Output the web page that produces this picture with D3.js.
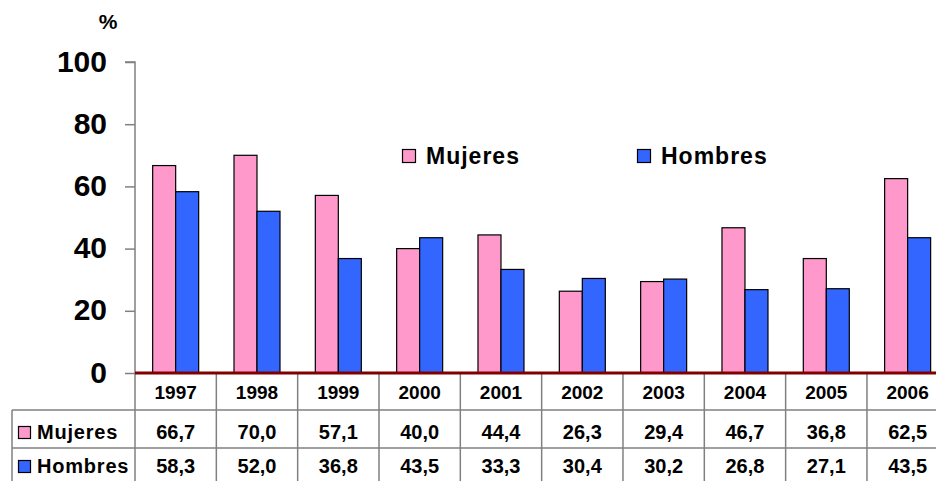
<!DOCTYPE html>
<html><head><meta charset="utf-8">
<script src="https://cdn.jsdelivr.net/npm/d3@7"></script>
<style>body{margin:0;background:#fff}svg{display:block}text{font-family:"Liberation Sans",Arial,sans-serif;font-weight:bold}</style>
</head><body><svg id="c" width="936" height="481"></svg>
<script>
const years = ["1997","1998","1999","2000","2001","2002","2003","2004","2005","2006"];
const mujeres = [66.7,70.0,57.1,40.0,44.4,26.3,29.4,46.7,36.8,62.5];
const hombres = [58.3,52.0,36.8,43.5,33.3,30.4,30.2,26.8,27.1,43.5];
const seriesNames = ["Mujeres","Hombres"];
const seriesColors = ["#FF99CC","#3366FF"];
const yTicks = [0,20,40,60,80,100];

const svg = d3.select("#c");
const x0 = 135, colW = 81.33;
const x = d3.scaleBand().domain(years).range([x0, x0 + colW*years.length]).paddingInner(0).paddingOuter(0);
const y = d3.scaleLinear().domain([0,100]).range([373, 62]);
const bw = 23;
const fmt = v => v.toFixed(1).replace(".", ",");

// y axis
const yAxis = d3.axisLeft(y).tickValues(yTicks).tickSize(10).tickPadding(18).tickFormat(d3.format("d"));
const ga = svg.append("g").attr("transform","translate("+x0+",0)").call(yAxis);
ga.select(".domain").attr("stroke","#808080").attr("stroke-width",1.5).attr("d","M-10,"+y(100)+"H0V"+y(0));
ga.selectAll(".tick line").attr("stroke","#808080").attr("stroke-width",1.5);
ga.selectAll(".tick text").attr("font-size",30).attr("font-weight","bold").attr("fill","#000")
  .attr("font-family","'Liberation Sans',Arial,sans-serif").attr("dy","0.3em");

svg.append("text").attr("x",108).attr("y",29).attr("text-anchor","middle").attr("font-size",21).text("%");

// bars
const data = [mujeres, hombres];
data.forEach((vals,si)=>{
  svg.append("g").selectAll("rect").data(vals).join("rect")
    .attr("x",(d,i)=> x(years[i]) + x.bandwidth()/2 - bw + si*bw)
    .attr("y",d=>y(d)).attr("width",bw).attr("height",d=>y(0)-y(d))
    .attr("fill",seriesColors[si]).attr("stroke","#000").attr("stroke-width",1.2);
});

// table
const rowY = [373, 410, 448, 481];
const tx0 = 12;
const grid = svg.append("g").attr("stroke","#808080").attr("stroke-width",1.5);
grid.append("line").attr("x1",tx0).attr("x2",936).attr("y1",rowY[1]).attr("y2",rowY[1]);
grid.append("line").attr("x1",tx0).attr("x2",936).attr("y1",rowY[2]).attr("y2",rowY[2]);
grid.append("line").attr("x1",tx0).attr("x2",tx0).attr("y1",rowY[1]).attr("y2",rowY[3]);
years.forEach(yr=>{
  grid.append("line").attr("x1",x(yr)).attr("x2",x(yr)).attr("y1",rowY[0]).attr("y2",rowY[3]);
});

// zero line
svg.append("line").attr("x1",x0).attr("x2",936).attr("y1",y(0)).attr("y2",y(0)).attr("stroke","#800000").attr("stroke-width",3);

// year labels
svg.append("g").selectAll("text").data(years).join("text")
  .attr("x",d=>x(d)+x.bandwidth()/2).attr("y",398.5)
  .attr("text-anchor","middle").attr("font-size",19).text(d=>d);

// value rows
const rowBase = [439, 473];
data.forEach((vals,si)=>{
  const cy = rowBase[si];
  svg.append("g").selectAll("text").data(vals).join("text")
    .attr("x",(d,i)=>x(years[i])+x.bandwidth()/2).attr("y",cy)
    .attr("text-anchor","middle").attr("font-size",20).text(d=>fmt(d));
  svg.append("rect").attr("x",18.5).attr("y",cy-12.5).attr("width",12).attr("height",12)
    .attr("fill",seriesColors[si]).attr("stroke","#000").attr("stroke-width",1.2);
  svg.append("text").attr("x",37).attr("y",cy).attr("font-size",20).attr("letter-spacing",0.8).text(seriesNames[si]);
});

// legend
const legX = [402, 637];
seriesNames.forEach((n,i)=>{
  svg.append("rect").attr("x",legX[i]+0.5).attr("y",149.5).attr("width",13).attr("height",13)
    .attr("fill",seriesColors[i]).attr("stroke","#000").attr("stroke-width",1.2);
  svg.append("text").attr("x",legX[i]+24).attr("y",164).attr("font-size",23).attr("letter-spacing",1).text(n);
});
</script></body></html>
